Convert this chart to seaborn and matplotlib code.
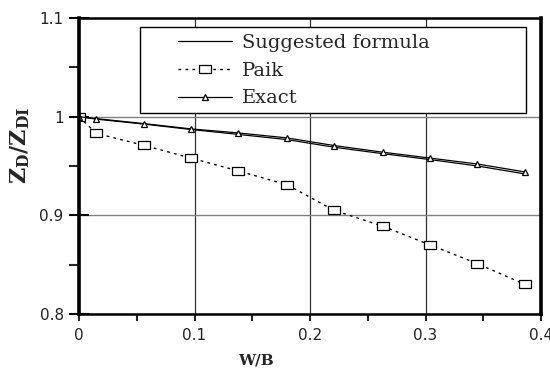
import matplotlib
matplotlib.use("Agg")
import matplotlib.pyplot as plt
import seaborn as sns
import pandas as pd
from matplotlib.patches import Rectangle

# Data
x_vals = [0.0, 0.015, 0.056, 0.097, 0.138, 0.180, 0.221, 0.263, 0.304, 0.345, 0.386]
suggested = [1.000, 0.9975, 0.9925, 0.9870, 0.9820, 0.9768, 0.9690, 0.9625, 0.9565, 0.9500, 0.9420]
paik = [1.000, 0.983, 0.971, 0.958, 0.945, 0.931, 0.905, 0.889, 0.870, 0.851, 0.830]
exact = [1.000, 0.998, 0.993, 0.9876, 0.9835, 0.9785, 0.9707, 0.964, 0.958, 0.952, 0.944]
series_names = ["Suggested formula", "Paik", "Exact"]
x_ticks = [0, 0.1, 0.2, 0.3, 0.4]
x_tick_labels = ["0", "0.1", "0.2", "0.3", "0.4"]
y_ticks = [0.8, 0.9, 1.0, 1.1]
y_tick_labels = ["0.8", "0.9", "1", "1.1"]

df = pd.DataFrame({"x": x_vals, "Suggested formula": suggested, "Paik": paik, "Exact": exact})

sns.set_style("white")
plt.rcParams["mathtext.fontset"] = "dejavuserif"

fig = plt.figure(figsize=(5.5, 3.7), dpi=100)
ax = fig.add_axes([79 / 550, 1 - 314 / 370, 462 / 550, 296 / 370])

rect_marker = [(-1.5, -1), (1.5, -1), (1.5, 1), (-1.5, 1), (-1.5, -1)]

sns.lineplot(data=df, x="x", y="Suggested formula", ax=ax, color="black", lw=0.9,
             label=series_names[0])
sns.lineplot(data=df, x="x", y="Paik", ax=ax, color="black", lw=1.0,
             marker=rect_marker, markersize=9, markerfacecolor="white", markeredgecolor="black",
             markeredgewidth=0.9, label=series_names[1])
ax.lines[-1].set_dashes((2, 3))
sns.lineplot(data=df, x="x", y="Exact", ax=ax, color="black", lw=0.9,
             marker="^", markersize=4.5, markerfacecolor="white", markeredgecolor="black",
             markeredgewidth=0.9, label=series_names[2])

ax.set_xlim(0, 0.4)
ax.set_ylim(0.8, 1.1)
ax.set_xticks(x_ticks)
ax.set_xticklabels(x_tick_labels)
ax.set_yticks(y_ticks)
ax.set_yticklabels(y_tick_labels)
ax.set_xticks([0.05, 0.15, 0.25, 0.35], minor=True)
ax.set_yticks([0.85, 0.95, 1.05], minor=True)

ax.xaxis.grid(True, which="major", color="#333333", lw=0.9)
ax.yaxis.grid(True, which="major", color="#808080", lw=1.0)
ax.set_axisbelow(True)

for side in ["left", "right"]:
    ax.spines[side].set_linewidth(2.6)
for side in ["top", "bottom"]:
    ax.spines[side].set_linewidth(1.8)
for s in ax.spines.values():
    s.set_color("black")

ax.tick_params(axis="y", which="major", direction="inout", length=14, width=1.5,
               labelsize=11, pad=4, left=True, colors="black")
ax.tick_params(axis="y", which="minor", direction="out", length=7, width=1.5, left=True)
ax.tick_params(axis="x", which="both", direction="out", length=5, width=1.5,
               labelsize=11, pad=5, bottom=True)
for lab in ax.get_xticklabels() + ax.get_yticklabels():
    lab.set_fontfamily("DejaVu Sans")
    lab.set_color("#222222")

ax.set_xlabel("")
ax.set_ylabel("")
fig.text(256 / 550, 1 - 361 / 370, "W/B", ha="center", va="center",
         fontsize=11, fontweight="bold", family="DejaVu Serif")
fig.text(20 / 550, 1 - 145 / 370, r"$\mathbf{Z_D/Z_{DI}}$", ha="center", va="center",
         rotation=90, fontsize=16)

# legend frame and legend
ax.add_patch(Rectangle(((140 - 79) / 462, (314 - 113) / 296), (526 - 140) / 462, 86 / 296,
                       transform=ax.transAxes, facecolor="white", edgecolor="black",
                       lw=1.0, zorder=4))
leg = ax.legend(loc="upper left", bbox_to_anchor=((178 - 79) / 462, (314 - 34) / 296),
                frameon=False, borderpad=0, borderaxespad=0, handlelength=2.8,
                handletextpad=0.5, labelspacing=0.5,
                prop={"family": "DejaVu Serif", "size": 14})
leg.set_zorder(5)

fig.savefig("out.png", dpi=100)
